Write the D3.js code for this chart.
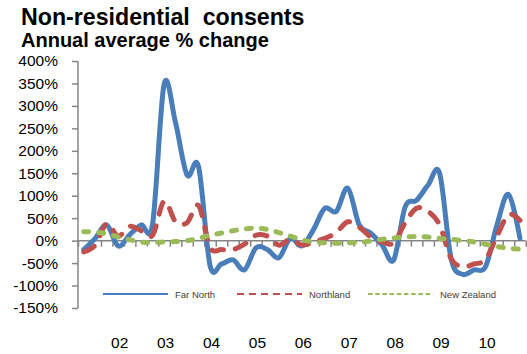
<!DOCTYPE html>
<html><head><meta charset="utf-8">
<script src="https://cdn.jsdelivr.net/npm/d3@7"></script>
<style>
body{margin:0;background:#fff;}
svg{display:block;font-family:"Liberation Sans",Arial,sans-serif;}
</style></head>
<body><svg id="c" width="527" height="354"></svg>
<script>
const categories = ["Jun 01","Sep 01","Dec 01",
 "Mar 02","Jun 02","Sep 02","Dec 02",
 "Mar 03","Jun 03","Sep 03","Dec 03",
 "Mar 04","Jun 04","Sep 04","Dec 04",
 "Mar 05","Jun 05","Sep 05","Dec 05",
 "Mar 06","Jun 06","Sep 06","Dec 06",
 "Mar 07","Jun 07","Sep 07","Dec 07",
 "Mar 08","Jun 08","Sep 08","Dec 08",
 "Mar 09","Jun 09","Sep 09","Dec 09",
 "Mar 10","Jun 10","Sep 10","Dec 10"];
const farNorth = [-20,5,35,-12,13,35,38,348,262,146,165,-55,-52,-43,-65,-16,-20,-38,5,-12,24,72,65,117,35,17,-10,-43,75,90,124,150,-40,-75,-65,-58,35,103,5];
const northland = [-25,-10,38,10,32,22,12,88,42,40,78,-15,-20,-20,-8,12,10,-10,3,-10,-3,5,18,42,30,8,-3,-5,40,72,65,35,-40,-58,-52,-42,10,58,45];
const newZealand = [20,19,15,8,2,-3,-4,-3,-2,0,5,12,17,22,26,28,25,18,10,2,-3,-5,-6,-5,-4,-1,3,6,8,9,8,5,3,0,-3,-8,-13,-17,-19];
const yTicks = [-150,-100,-50,0,50,100,150,200,250,300,350,400];
const yearLabels = ["02","03","04","05","06","07","08","09","10"];
const seriesNames = ["Far North","Northland","New Zealand"];
const colors = ["#4a7ebb","#c0504d","#9bbb59"];

const svg = d3.select("#c");
const x = d3.scaleBand().domain(categories).range([78, 525.7]).padding(0);
const cx = c => x(c) + x.bandwidth()/2;
const y = d3.scaleLinear().domain([-150, 400]).range([308, 61]);

// title
svg.append("text").attr("x",21).attr("y",25).attr("font-weight","bold")
  .attr("font-size",23.2).attr("fill","#000").style("white-space","pre").text("Non-residential  consents");
svg.append("text").attr("x",21).attr("y",47).attr("font-weight","bold")
  .attr("font-size",20).attr("fill","#000").text("Annual average % change");

// y axis
const yAxis = svg.append("g").attr("transform","translate(78,0)")
  .call(d3.axisLeft(y).tickValues(yTicks).tickSize(6).tickPadding(14).tickFormat(d=>d+"%"));
yAxis.selectAll("path,line").attr("stroke","#868686").attr("stroke-width",1.5);
yAxis.select(".domain").attr("d","M0,"+y(-150)+"V"+y(400));
yAxis.selectAll("text").attr("font-size",15.5).attr("fill","#000").attr("font-family","Liberation Sans, Arial, sans-serif");

// x axis at zero
const bounds = categories.map(c => x(c)).concat([x.range()[1]]);
const xl = d3.scaleLinear().domain([78,525.7]).range([78,525.7]);
const xAxis = svg.append("g").attr("transform","translate(0,"+y(0)+")")
  .call(d3.axisBottom(xl).tickValues(bounds).tickSize(6).tickFormat(""));
xAxis.select(".domain").attr("d","M78,0H525.7");
xAxis.selectAll("path,line").attr("stroke","#868686").attr("stroke-width",1.5);

// year labels
const labelCats = categories.filter(c => c.startsWith("Mar"));
svg.append("g").selectAll("text").data(labelCats).join("text")
  .attr("x", (c) => cx(c) + 1.5).attr("y", 348).attr("text-anchor","middle")
  .attr("font-size",15.5).attr("fill","#000")
  .text((c,i) => yearLabels[i]);

// lines
const line = d3.line().x((d,i)=>cx(categories[i])).y(d=>y(d)).curve(d3.curveCardinal.tension(0));
const data = [farNorth, northland, newZealand];
const dashes = [null, "12,12", "5,10"];
data.forEach((s,k)=>{
  svg.append("path").attr("d", line(s)).attr("fill","none")
    .attr("stroke", colors[k]).attr("stroke-width",5)
    .attr("stroke-linecap","round")
    .attr("stroke-linejoin","round")
    .attr("stroke-dasharray", dashes[k]);
});

// legend
const legX = [103, 237, 368];
const legDash = [null, "7,5", "4.5,2.7"];
const leg = svg.append("g");
seriesNames.forEach((n,k)=>{
  leg.append("line").attr("x1",legX[k]).attr("x2",legX[k]+65).attr("y1",294).attr("y2",294)
    .attr("stroke",colors[k]).attr("stroke-width",2.2).attr("stroke-dasharray",legDash[k]);
  leg.append("text").attr("x",legX[k]+72).attr("y",297.5).attr("font-size",9.5)
    .attr("fill","#404040").text(n);
});
</script></body></html>
